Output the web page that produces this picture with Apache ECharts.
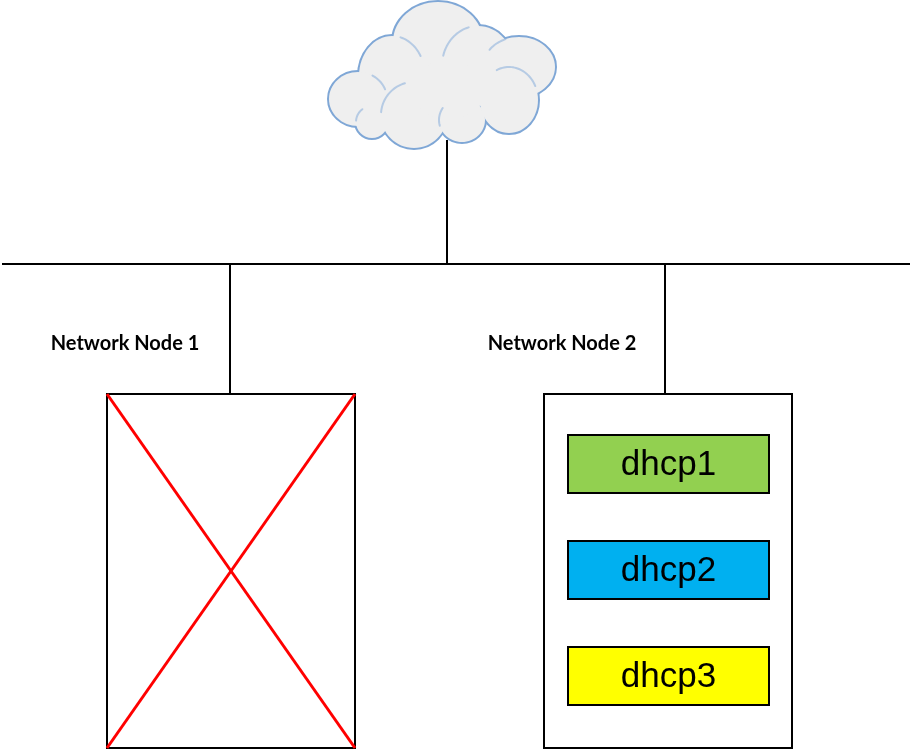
<!DOCTYPE html>
<html>
<head>
<meta charset="utf-8">
<script src="https://cdn.jsdelivr.net/npm/echarts@6/dist/echarts.min.js"></script>
<style>
  html, body { margin: 0; padding: 0; background: #fff; }
  #chart-view { width: 912px; height: 751px; }
</style>
</head>
<body>
<div id="chart-view"></div>
<script>
// cloud puffs: [cx, cy, rx, ry]
var cloudPuffs = [
    [438, 42, 45, 40],
    [392, 76, 33, 40],
    [478, 66, 36, 40],
    [519, 67, 36, 30],
    [358, 99, 29, 27],
    [372, 122, 16, 16],
    [414, 115, 33, 33],
    [462, 120, 23, 22],
    [509, 100, 29, 33]
];
// fills the gap in the middle of the cloud
var cloudCore = [448, 90, 35, 30];
// faint inner edges: [puff, fromDeg, toDeg] (screen angles, 270 = top)
var innerEdges = [
    [1, 285, 330],
    [2, 195, 255],
    [3, 215, 250],
    [8, 245, 335],
    [6, 185, 255],
    [7, 165, 215],
    [5, 185, 235],
    [4, 300, 340]
];

// wires: [x1, y1, x2, y2]
var wires = [
    [2, 264, 910, 264],
    [447, 140, 447, 264],
    [230, 264, 230, 394],
    [665, 264, 665, 394]
];

// network nodes
var nodeNames = ['Network Node 1', 'Network Node 2'];
var nodeLabelPos = [[125, 344], [562, 344]];
var nodeBoxes = [[107, 394, 248, 354], [544, 394, 248, 354]];
var nodeDown = [true, false];

// dhcp agents on node 2
var agentNames = ['dhcp1', 'dhcp2', 'dhcp3'];
var agentBoxes = [[568, 435, 201, 58], [568, 541, 201, 58], [568, 647, 201, 58]];
var agentColors = ['#92D050', '#00B0F0', '#FFFF00'];

var chart = echarts.init(document.getElementById('chart-view'));

function rectShape(api, b) {
    var p = api.coord([b[0], b[1]]);
    var s = api.size([b[2], b[3]]);
    return { x: p[0], y: p[1], width: s[0], height: s[1] };
}

function puffShape(api, c) {
    var p = api.coord([c[0], c[1]]);
    var s = api.size([c[2], c[3]]);
    return { cx: p[0], cy: p[1], rx: s[0], ry: s[1] };
}

var option = {
    animation: false,
    grid: { left: 0, right: 0, top: 0, bottom: 0 },
    xAxis: { type: 'value', min: 0, max: 912, show: false },
    yAxis: { type: 'value', min: 0, max: 751, inverse: true, show: false },
    series: [
        // wires
        {
            type: 'custom',
            data: wires,
            renderItem: function (params, api) {
                var a = api.coord([api.value(0), api.value(1)]);
                var b = api.coord([api.value(2), api.value(3)]);
                return {
                    type: 'line',
                    shape: { x1: a[0], y1: a[1], x2: b[0], y2: b[1] },
                    style: { stroke: '#000', lineWidth: 2 }
                };
            },
            z: 1
        },
        // cloud: outline pass, fill pass, then a few faint inner edges
        {
            type: 'custom',
            data: [0],
            renderItem: function (params, api) {
                var kids = [];
                cloudPuffs.forEach(function (c) {
                    kids.push({ type: 'ellipse', shape: puffShape(api, c),
                        style: { fill: '#7FA7D6', stroke: '#7FA7D6', lineWidth: 4 } });
                });
                cloudPuffs.concat([cloudCore]).forEach(function (c) {
                    kids.push({ type: 'ellipse', shape: puffShape(api, c), style: { fill: '#EFEFEF' } });
                });
                innerEdges.forEach(function (e) {
                    var sh = puffShape(api, cloudPuffs[e[0]]);
                    var pts = [];
                    for (var a = e[1]; a <= e[2]; a += 3) {
                        var t = a * Math.PI / 180;
                        pts.push([sh.cx + sh.rx * Math.cos(t), sh.cy + sh.ry * Math.sin(t)]);
                    }
                    kids.push({ type: 'polyline', shape: { points: pts },
                        style: { fill: null, stroke: '#8FB2DC', lineWidth: 2, opacity: 0.6, lineCap: 'round' } });
                });
                return { type: 'group', children: kids };
            },
            z: 3
        },
        // node boxes
        {
            type: 'custom',
            data: nodeBoxes,
            renderItem: function (params, api) {
                var b = nodeBoxes[params.dataIndex];
                var r = rectShape(api, b);
                var kids = [{ type: 'rect', shape: r, style: { fill: '#fff', stroke: '#000', lineWidth: 2 } }];
                if (nodeDown[params.dataIndex]) {
                    kids.push({ type: 'line', shape: { x1: r.x, y1: r.y, x2: r.x + r.width, y2: r.y + r.height },
                        style: { stroke: '#FF0000', lineWidth: 3 } });
                    kids.push({ type: 'line', shape: { x1: r.x + r.width, y1: r.y, x2: r.x, y2: r.y + r.height },
                        style: { stroke: '#FF0000', lineWidth: 3 } });
                }
                var lp = api.coord(nodeLabelPos[params.dataIndex]);
                kids.push({ type: 'text', x: lp[0], y: lp[1],
                    style: { text: nodeNames[params.dataIndex], fill: '#000', align: 'center', verticalAlign: 'middle',
                        font: 'bold 20px Lato, "Open Sans", sans-serif' } });
                return { type: 'group', children: kids };
            },
            z: 2
        },
        // dhcp agents
        {
            type: 'custom',
            data: agentBoxes,
            renderItem: function (params, api) {
                var b = agentBoxes[params.dataIndex];
                var r = rectShape(api, b);
                return {
                    type: 'group',
                    children: [
                        { type: 'rect', shape: r, style: { fill: agentColors[params.dataIndex], stroke: '#000', lineWidth: 2 } },
                        { type: 'text', x: r.x + r.width / 2, y: r.y + r.height / 2 + 1,
                          style: { text: agentNames[params.dataIndex], fill: '#000', align: 'center', verticalAlign: 'middle',
                            font: '35px "Liberation Sans", Arial, sans-serif' } }
                    ]
                };
            },
            z: 4
        }
    ]
};
chart.setOption(option);
</script>
</body>
</html>
